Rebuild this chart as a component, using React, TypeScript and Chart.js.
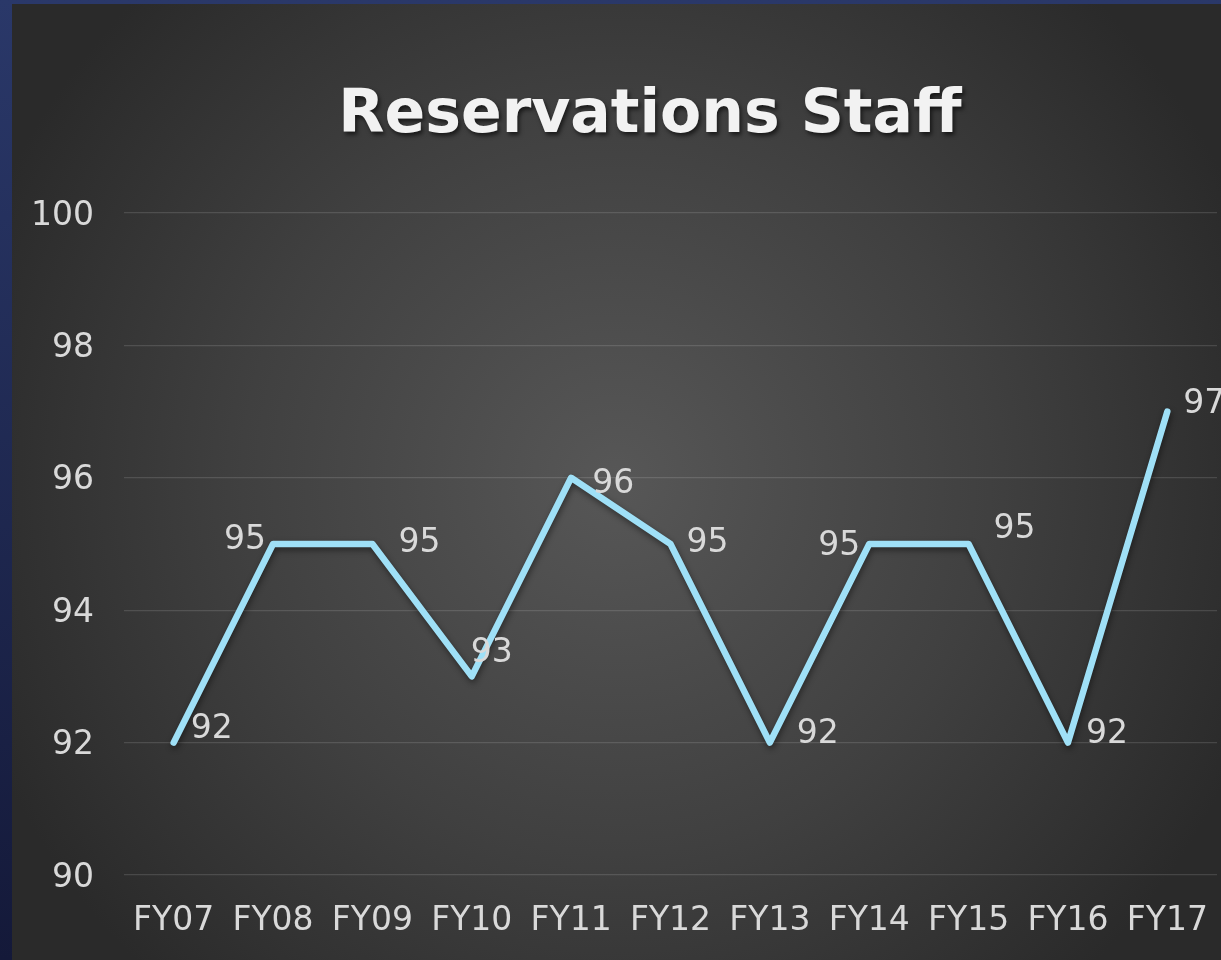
import React, { useEffect, useRef } from "react";
import { Chart, registerables } from "chart.js";

Chart.register(...registerables);

const TITLE = "Reservations Staff";
const categories = ["FY07", "FY08", "FY09", "FY10", "FY11", "FY12", "FY13", "FY14", "FY15", "FY16", "FY17"];
const staffValues = [92, 95, 95, 93, 96, 95, 92, 95, 95, 92, 97];
const yMin = 90;
const yMax = 100;
const yStep = 2;

// label placement (style): offset of label centre from its point
const labelDx = [38, -28, 47, 20, 42, 37, 48, -30, 46, 39, 37];
const labelDy = [-17, -7, -4, -26, 3, -4, -12, -1, -18, -12, -11];

const FONT = "'DejaVu Sans', Verdana, sans-serif";

const backgroundPlugin = {
  id: "panelBg",
  beforeDraw(chart: any) {
    const { ctx, width, height } = chart;
    ctx.save();
    const blue = ctx.createLinearGradient(0, 0, 0, height);
    blue.addColorStop(0, "#2a3869");
    blue.addColorStop(1, "#141939");
    ctx.fillStyle = blue;
    ctx.fillRect(0, 0, width, height);
    const g = ctx.createRadialGradient(616, 480, 0, 616, 480, 680);
    g.addColorStop(0, "#575757");
    g.addColorStop(0.55, "#404040");
    g.addColorStop(1, "#2a2a2a");
    ctx.fillStyle = g;
    ctx.fillRect(12, 4, width - 12, height - 4);
    ctx.restore();
  },
  afterDraw(chart: any) {
    const { ctx } = chart;
    ctx.save();
    ctx.font = `bold 60px ${FONT}`;
    ctx.textAlign = "center";
    ctx.textBaseline = "alphabetic";
    ctx.shadowColor = "rgba(0,0,0,0.6)";
    ctx.shadowBlur = 4;
    ctx.shadowOffsetX = 2;
    ctx.shadowOffsetY = 3;
    ctx.fillStyle = "#f2f2f2";
    ctx.fillText(TITLE, 650, 132);
    ctx.restore();
  },
};

const lineShadowPlugin = {
  id: "lineShadow",
  beforeDatasetDraw(chart: any) {
    const { ctx } = chart;
    ctx.save();
    ctx.shadowColor = "rgba(0,0,0,0.45)";
    ctx.shadowBlur = 6;
    ctx.shadowOffsetX = 1;
    ctx.shadowOffsetY = 3;
  },
  afterDatasetDraw(chart: any) {
    chart.ctx.restore();
  },
};

const dataLabelPlugin = {
  id: "dataLabels",
  afterDatasetsDraw(chart: any) {
    const { ctx } = chart;
    const meta = chart.getDatasetMeta(0);
    const data = chart.data.datasets[0].data as number[];
    ctx.save();
    ctx.font = `33px ${FONT}`;
    ctx.fillStyle = "#d9d9d9";
    ctx.textAlign = "center";
    ctx.textBaseline = "alphabetic";
    meta.data.forEach((pt: any, i: number) => {
      const cx = pt.x + labelDx[i];
      const cy = pt.y + labelDy[i];
      ctx.fillText(String(data[i]), cx, cy + 12);
    });
    ctx.restore();
  },
};

export default function App() {
  const ref = useRef<HTMLCanvasElement>(null);
  useEffect(() => {
    if (!ref.current) return;
    const chart = new Chart(ref.current, {
      type: "line",
      data: {
        labels: categories,
        datasets: [
          {
            data: staffValues,
            borderColor: "#9fe0f7",
            borderWidth: 6.5,
            borderCapStyle: "round",
            borderJoinStyle: "round",
            pointRadius: 0,
            tension: 0,
            fill: false,
          },
        ],
      },
      options: {
        animation: false,
        responsive: false,
        maintainAspectRatio: false,
        layout: { padding: { left: 12, top: 213, right: 4, bottom: 0 } },
        plugins: {
          legend: { display: false },
          title: { display: false },
          tooltip: { enabled: false },
        },
        scales: {
          x: {
            type: "category",
            offset: true,
            grid: { display: false, drawTicks: false },
            border: { display: false },
            ticks: {
              color: "#d9d9d9",
              font: { family: FONT, size: 33, lineHeight: "84px" },
              padding: 4,
              maxRotation: 0,
              autoSkip: false,
            },
            afterFit(scale: any) {
              scale.height = 85;
            },
          },
          y: {
            min: yMin,
            max: yMax,
            grid: { color: "rgba(255,255,255,0.13)", lineWidth: 1.3, drawTicks: false },
            border: { display: false },
            ticks: {
              stepSize: yStep,
              color: "#d9d9d9",
              font: { family: FONT, size: 33 },
              padding: 30,
              labelOffset: 3,
            },
            afterFit(scale: any) {
              scale.width = 112;
            },
          },
        },
      },
      plugins: [backgroundPlugin, lineShadowPlugin, dataLabelPlugin],
    });
    return () => chart.destroy();
  }, []);
  return (
    <div style={{ position: "absolute", left: 0, top: 0, width: 1221, height: 960 }}>
      <canvas ref={ref} width={1221} height={960} style={{ display: "block" }} />
    </div>
  );
}
